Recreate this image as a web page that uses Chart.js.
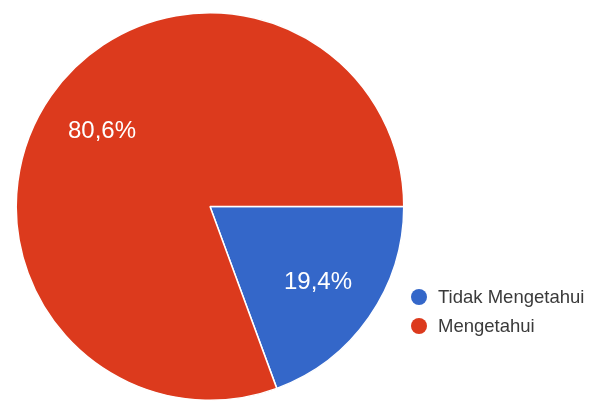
<!DOCTYPE html>
<html>
<head>
<meta charset="utf-8">
<script src="https://cdn.jsdelivr.net/npm/chart.js@4"></script>
<style>
  html, body { margin: 0; padding: 0; background: #fff; }
  #wrap { position: relative; width: 591px; height: 401px; }
  #legend { position: absolute; left: 411px; top: 282px; font-family: "Liberation Sans", Arial, sans-serif; font-size: 18.5px; color: #3a3a3a; }
  .item { display: flex; align-items: center; height: 29px; }
  .dot { width: 16px; height: 16px; border-radius: 50%; margin-right: 11px; }
</style>
</head>
<body>
<div id="wrap">
  <canvas id="pieChart" width="591" height="401"></canvas>
  <div id="legend"></div>
</div>
<script>
const labels = ['Tidak Mengetahui', 'Mengetahui'];
const values = [19.4, 80.6];
const colors = ['#3467c9', '#dc3a1d'];
const percentLabels = ['19,4%', '80,6%'];

// persen di dalam irisan
const sliceLabels = {
  id: 'sliceLabels',
  afterDatasetsDraw(chart) {
    const ctx = chart.ctx;
    const meta = chart.getDatasetMeta(0);
    ctx.save();
    ctx.fillStyle = '#ffffff';
    ctx.font = '24px "Liberation Sans", Arial, sans-serif';
    ctx.textAlign = 'center';
    ctx.textBaseline = 'middle';
    meta.data.forEach(function(arc, i) {
      const p = arc.getProps(['x', 'y', 'startAngle', 'endAngle', 'outerRadius'], true);
      const mid = (p.startAngle + p.endAngle) / 2;
      const r = p.outerRadius * 0.68;
      ctx.fillText(percentLabels[i], p.x + Math.cos(mid) * r, p.y + Math.sin(mid) * r);
    });
    ctx.restore();
  }
};

var ctx = document.getElementById('pieChart').getContext('2d');
var pieChart = new Chart(ctx, {
  type: 'pie',
  data: {
    labels: labels,
    datasets: [{
      data: values,
      backgroundColor: colors,
      borderColor: '#ffffff',
      borderWidth: 1.5
    }]
  },
  options: {
    responsive: false,
    animation: false,
    rotation: 90,
    layout: { padding: { left: 15, top: 12, right: 186, bottom: 0 } },
    plugins: {
      legend: { display: false },
      tooltip: { enabled: false }
    }
  },
  plugins: [sliceLabels]
});

var legendEl = document.getElementById('legend');
labels.forEach(function(label, i) {
  var row = document.createElement('div');
  row.className = 'item';
  var dot = document.createElement('span');
  dot.className = 'dot';
  dot.style.background = colors[i];
  var txt = document.createElement('span');
  txt.textContent = label;
  row.appendChild(dot);
  row.appendChild(txt);
  legendEl.appendChild(row);
});
</script>
</body>
</html>
